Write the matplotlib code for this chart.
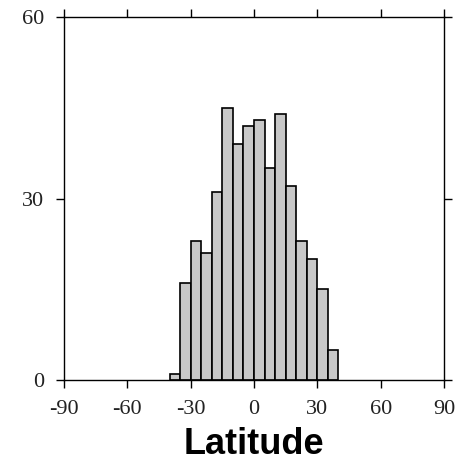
import numpy as np
from matplotlib import pyplot as plt

plt.rcParams['axes.unicode_minus'] = False

# histogram of latitudes, 5 degree bins
bin_edges = np.arange(-40, 45, 5)
counts = [1, 16, 23, 21, 31, 45, 39, 42, 43, 35, 44, 32, 23, 20, 15, 5]
xticks = [-90, -60, -30, 0, 30, 60, 90]
yticks = [0, 30, 60]

fig = plt.figure(figsize=(4.62, 4.70), dpi=100)
ax = fig.add_axes([0.1385, 0.1915, 0.8225, 0.7723])

ax.bar(bin_edges[:-1], counts, width=5, align='edge',
       color='#c8c8c8', edgecolor='black', linewidth=1.2)

ax.set_xlim(-90, 90)
ax.set_ylim(0, 60)
ax.set_xticks(xticks)
ax.set_yticks(yticks)
ax.tick_params(direction='out', length=6, width=1, top=True, right=True,
               labelsize=16, labelcolor='#222222')
ax.tick_params(axis='x', pad=8.5)
ax.tick_params(axis='y', pad=8)
for lab in ax.get_xticklabels() + ax.get_yticklabels():
    lab.set_family('Liberation Serif')
for s in ax.spines.values():
    s.set_linewidth(1)

ax.set_xlabel('Latitude', family='Liberation Sans', fontweight='bold',
              fontsize=26, labelpad=6)

plt.savefig('out.png')
